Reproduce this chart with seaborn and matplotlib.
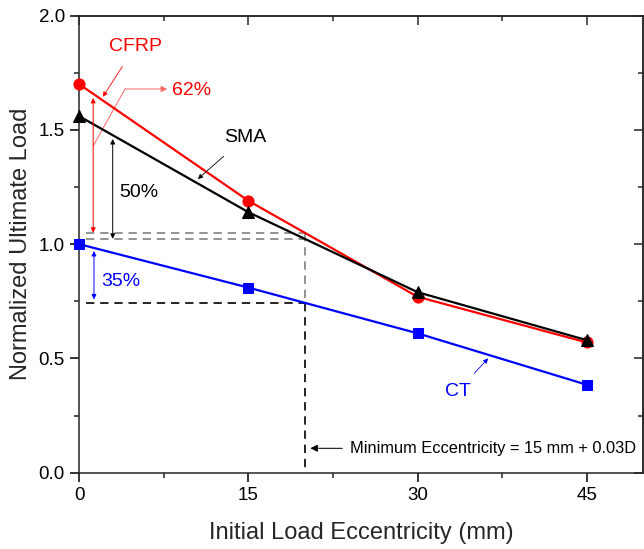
import numpy as np
import pandas as pd
import matplotlib
matplotlib.use("Agg")
import matplotlib.pyplot as plt
from matplotlib.ticker import MultipleLocator, FormatStrFormatter
import seaborn as sns

# Normalized ultimate load vs. initial load eccentricity
eccentricity = [0, 15, 30, 45]
ct_load = [1.00, 0.81, 0.61, 0.385]
sma_load = [1.56, 1.14, 0.79, 0.58]
cfrp_load = [1.70, 1.19, 0.77, 0.57]
min_ecc = 20  # 15 mm + 0.03D

series_names = ["CT", "CFRP", "SMA"]
series_values = [ct_load, cfrp_load, sma_load]
colors = {"CT": "#0000FF", "CFRP": "#FF0000", "SMA": "#000000"}
markers = {"CT": "s", "CFRP": "o", "SMA": "^"}
msizes = {"CT": 7.0, "CFRP": 8.0, "SMA": 8.0}

df = pd.DataFrame({
    "ecc": eccentricity * len(series_names),
    "load": [v for vals in series_values for v in vals],
    "series": [n for n in series_names for _ in eccentricity],
})

sns.set_theme(style="ticks")
plt.rcParams["font.family"] = ["Liberation Sans", "DejaVu Sans"]
plt.rcParams["axes.linewidth"] = 1.1

fig = plt.figure(figsize=(6.44, 5.49), dpi=100)
ax = fig.add_axes([0.123, 0.139, 0.8755, 0.8325])

for name in series_names:
    sub = df[df["series"] == name]
    sns.lineplot(data=sub, x="ecc", y="load", color=colors[name],
                 marker=markers[name], markersize=msizes[name],
                 markeredgecolor=colors[name], linewidth=1.6,
                 ax=ax, legend=False, zorder=3, clip_on=False)

# values of each series at the minimum eccentricity
ct_min = np.interp(min_ecc, eccentricity, ct_load)
sma_min = np.interp(min_ecc, eccentricity, sma_load)
cfrp_min = np.interp(min_ecc, eccentricity, cfrp_load)

dash = (5, 3.5)
gray = "#808080"
ax.plot([0.6, min_ecc], [cfrp_min, cfrp_min], color=gray, lw=1.2, dashes=dash, zorder=2)
ax.plot([0.6, min_ecc], [sma_min, sma_min], color=gray, lw=1.2, dashes=dash, zorder=2)
ax.plot([min_ecc, min_ecc], [cfrp_min, ct_min], color=gray, lw=1.2, dashes=dash, zorder=2)
ax.plot([0.6, min_ecc], [ct_min, ct_min], color="black", lw=1.2, dashes=dash, zorder=2)
ax.plot([min_ecc, min_ecc], [ct_min, 0], color="black", lw=1.2, dashes=dash, zorder=2)

# double arrows showing the gains
def double_arrow(x, y0, y1, color):
    ax.annotate("", xy=(x, y1), xytext=(x, y0),
                arrowprops=dict(arrowstyle="<|-|>", color=color, lw=0.7,
                                mutation_scale=7, shrinkA=0, shrinkB=0))

double_arrow(1.24, cfrp_min, 1.64, "#FF0000")
double_arrow(2.97, sma_min, 1.46, "black")
double_arrow(1.31, ct_min + 0.015, 0.97, "#0000FF")

ax.text(5.3, 1.227, "50%", fontsize=14, color="black", ha="center", va="center")
ax.text(1.95, 0.836, "35%", fontsize=14, color="#0000FF", ha="left", va="center")

# 62% leader
ax.plot([1.24, 4.06], [1.43, 1.679], color="#FF6666", lw=0.7)
ax.annotate("", xy=(7.8, 1.679), xytext=(4.06, 1.679),
            arrowprops=dict(arrowstyle="-|>", color="#FF6666", lw=0.7,
                            mutation_scale=9, shrinkA=0, shrinkB=0))
ax.text(8.2, 1.672, "62%", fontsize=14, color="#FF0000", ha="left", va="center")

# series labels
ax.annotate("CFRP", xy=(2.1, 1.645), xytext=(4.96, 1.865), fontsize=14,
            color="#FF0000", ha="center", va="center",
            arrowprops=dict(arrowstyle="-|>", color="#FF0000", lw=0.6,
                            mutation_scale=7, shrinkA=7, shrinkB=0))
ax.annotate("SMA", xy=(10.52, 1.285), xytext=(14.73, 1.468), fontsize=14,
            color="black", ha="center", va="center",
            arrowprops=dict(arrowstyle="-|>", color="black", lw=0.6,
                            mutation_scale=7, shrinkA=8, shrinkB=0))
ax.annotate("CT", xy=(36.27, 0.50), xytext=(33.55, 0.357), fontsize=14,
            color="#0000FF", ha="center", va="center",
            arrowprops=dict(arrowstyle="-|>", color="#0000FF", lw=0.6,
                            mutation_scale=7, shrinkA=6, shrinkB=0))

ax.annotate("", xy=(20.5, 0.107), xytext=(23.3, 0.107),
            arrowprops=dict(arrowstyle="-|>", color="black", lw=0.6,
                            mutation_scale=11, shrinkA=0, shrinkB=0))
ax.plot([21.3, 23.3], [0.107, 0.107], color="#808080", lw=0.8)
ax.text(24.0, 0.107, "Minimum Eccentricity = 15 mm + 0.03D", fontsize=11.8,
        color="black", ha="left", va="center")

ax.set_xlim(0, 50)
ax.set_ylim(0, 2.0)
ax.xaxis.set_major_locator(MultipleLocator(15))
ax.xaxis.set_minor_locator(MultipleLocator(7.5))
ax.yaxis.set_major_locator(MultipleLocator(0.5))
ax.yaxis.set_minor_locator(MultipleLocator(0.25))
ax.yaxis.set_major_formatter(FormatStrFormatter("%.1f"))
ax.tick_params(which="major", direction="out", length=6.3, width=1.1,
               labelsize=13.5, colors="black", pad=4)
ax.tick_params(which="minor", direction="out", length=3.3, width=1.1)

top = ax.secondary_xaxis("top")
right = ax.secondary_yaxis("right")
top.xaxis.set_major_locator(MultipleLocator(15))
top.xaxis.set_minor_locator(MultipleLocator(7.5))
top.xaxis.set_major_formatter(plt.NullFormatter())
right.yaxis.set_major_locator(MultipleLocator(0.5))
right.yaxis.set_minor_locator(MultipleLocator(0.25))
right.yaxis.set_major_formatter(plt.NullFormatter())
for sec in (top, right):
    sec.tick_params(which="major", direction="in", length=6.3, width=1.1)
    sec.tick_params(which="minor", direction="in", length=3.3, width=1.1)

ax.set_xlabel("Initial Load Eccentricity (mm)", fontsize=17, labelpad=13)
ax.set_ylabel("Normalized Ultimate Load", fontsize=17, labelpad=5)

fig.savefig("out.png", dpi=100)
